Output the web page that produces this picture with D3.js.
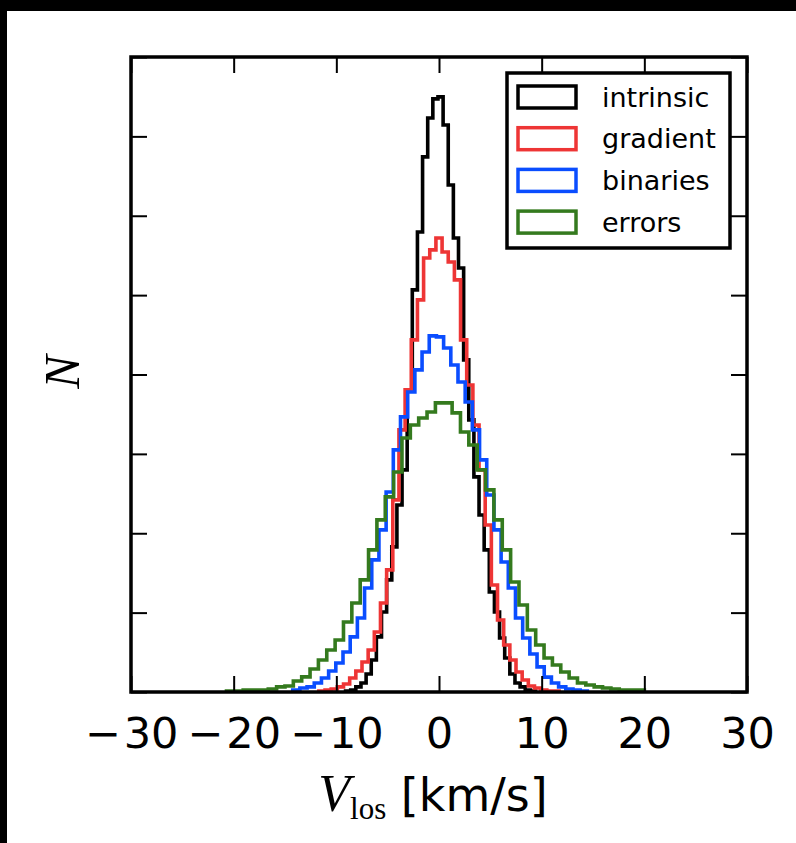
<html><head><meta charset="utf-8"><title>V_los histograms</title>
<style>
    body {
        margin: 0;
        background-color: #000;
    }
    svg text {
        font-family: 'DejaVu Sans', sans-serif;
    }
</style>
<script src="https://cdnjs.cloudflare.com/ajax/libs/d3/7.8.5/d3.min.js"></script>
</head>
<body>
<div id="chart"></div>

<script>
// Histogram data (counts per bin)
const seriesNames = ["intrinsic", "gradient", "binaries", "errors"];
const binStarts = [-9.1, -11.7, -14.25, -20.7];   // left edge of first bin, km/s
const binWidths = [0.5, 0.6, 0.7, 0.814];          // km/s

const intrinsic = [6, 13, 32, 57, 113, 202, 347, 504, 706, 914, 1178, 1399, 1903, 2533,
    2898, 3371, 3616, 3736, 3749, 3572, 3194, 2860, 2671, 2092, 1714, 1355, 1115, 895,
    630, 504, 340, 214, 113, 57, 32, 13, 6];
const gradient = [6, 13, 19, 32, 50, 88, 132, 189, 265, 378, 561, 769, 1210, 1651, 1903,
    2218, 2470, 2734, 2785, 2860, 2772, 2709, 2596, 2218, 1934, 1682, 1399, 1052, 674,
    454, 296, 202, 126, 76, 38, 25, 13, 6, 6];
const binaries = [13, 25, 32, 57, 88, 132, 183, 252, 347, 466, 655, 832, 1021, 1260, 1525,
    1733, 1890, 2029, 2142, 2243, 2237, 2167, 2060, 1953, 1827, 1651, 1462, 1241, 1021,
    819, 655, 466, 340, 239, 158, 94, 57, 32, 19, 13, 6];
const errors = [6, 6, 13, 13, 13, 19, 32, 38, 69, 95, 145, 202, 265, 328, 441, 561, 706,
    895, 1084, 1229, 1386, 1600, 1682, 1726, 1764, 1821, 1821, 1758, 1638, 1556, 1399,
    1273, 1084, 895, 693, 548, 391, 296, 214, 170, 126, 88, 57, 44, 32, 25, 19, 13, 13, 13];

const xTicks = [-30, -20, -10, 0, 10, 20, 30];
const yTicks = [0, 500, 1000, 1500, 2000, 2500, 3000, 3500, 4000];

const allSeries = [intrinsic, gradient, binaries, errors];
const colors = ["#000000", "#ee3535", "#0a4dff", "#347a1e"];

// Layout
const W = 796, H = 843;
const plotLeft = 131, plotRight = 747, plotTop = 57, plotBottom = 692;

const svg = d3.select("#chart")
    .append("svg")
    .attr("width", W)
    .attr("height", H)
    .style("display", "block");

svg.append("rect")
    .attr("x", 7).attr("y", 11)
    .attr("width", W - 7).attr("height", H - 11)
    .attr("fill", "#fff");

const x = d3.scaleLinear().domain([-30, 30]).range([plotLeft, plotRight]);
const y = d3.scaleLinear().domain([0, 4000]).range([plotBottom, plotTop]);

// Step outlines
const line = d3.line().x(d => x(d[0])).y(d => y(d[1]));

allSeries.forEach((counts, i) => {
    const pts = [[binStarts[i], 0]];
    counts.forEach((c, k) => {
        const e0 = binStarts[i] + k * binWidths[i];
        pts.push([e0, c], [e0 + binWidths[i], c]);
    });
    pts.push([binStarts[i] + counts.length * binWidths[i], 0]);
    svg.append("path")
        .attr("d", line(pts))
        .attr("fill", "none")
        .attr("stroke", colors[i])
        .attr("stroke-width", 3.6)
        .attr("stroke-linejoin", "miter");
});

// Axes, ticks pointing inward
const tickLen = 16;

const xAxis = svg.append("g")
    .attr("transform", `translate(0,${plotBottom})`)
    .call(d3.axisBottom(x).tickValues(xTicks).tickSize(-tickLen).tickPadding(25).tickFormat(""));
svg.append("g")
    .attr("transform", `translate(0,${plotTop})`)
    .call(d3.axisTop(x).tickValues(xTicks).tickSize(-tickLen).tickFormat(""));
svg.append("g")
    .attr("transform", `translate(${plotLeft},0)`)
    .call(d3.axisLeft(y).tickValues(yTicks).tickSize(-tickLen).tickFormat(""));
svg.append("g")
    .attr("transform", `translate(${plotRight},0)`)
    .call(d3.axisRight(y).tickValues(yTicks).tickSize(-tickLen).tickFormat(""));

svg.selectAll(".domain").remove();
svg.selectAll(".tick line").attr("stroke", "#000").attr("stroke-width", 2);

// Tick labels: mathtext-style minus
xAxis.selectAll(".tick text").each(function (d) {
    const t = d3.select(this)
        .attr("fill", "#000")
        .style("font-size", "43px")
        .style("font-family", "'DejaVu Sans', sans-serif");
    if (d < 0) {
        t.append("tspan").text("\u2212");
        t.append("tspan").attr("dx", 3).text(Math.abs(d));
    } else {
        t.text(d);
    }
});

// Frame
svg.append("rect")
    .attr("x", plotLeft).attr("y", plotTop)
    .attr("width", plotRight - plotLeft).attr("height", plotBottom - plotTop)
    .attr("fill", "none")
    .attr("stroke", "#000")
    .attr("stroke-width", 3.5);

// Axis labels
const xl = svg.append("text")
    .attr("x", 433).attr("y", 811)
    .attr("text-anchor", "middle")
    .attr("fill", "#000");
xl.append("tspan")
    .style("font-family", "'Liberation Serif', serif")
    .style("font-style", "italic")
    .style("font-size", "52px")
    .text("V");
xl.append("tspan")
    .style("font-family", "'Liberation Serif', serif")
    .style("font-size", "31px")
    .attr("dy", 8)
    .text("los");
xl.append("tspan")
    .style("font-size", "46px")
    .attr("dy", -8)
    .text("\u00a0[km/s]");

svg.append("text")
    .attr("transform", "translate(62,372) rotate(-90)")
    .attr("text-anchor", "middle")
    .attr("dominant-baseline", "central")
    .style("font-family", "'Liberation Serif', serif")
    .style("font-style", "italic")
    .style("font-size", "50px")
    .attr("fill", "#000")
    .text("N");

// Legend
const legend = svg.append("g");
legend.append("rect")
    .attr("x", 507).attr("y", 73)
    .attr("width", 223).attr("height", 175)
    .attr("fill", "#fff")
    .attr("stroke", "#000")
    .attr("stroke-width", 3.5);

seriesNames.forEach((name, i) => {
    const cy = 97 + i * 41.7;
    legend.append("rect")
        .attr("x", 518).attr("y", cy - 11)
        .attr("width", 58).attr("height", 22)
        .attr("fill", "#fff")
        .attr("stroke", colors[i])
        .attr("stroke-width", 3.5);
    legend.append("text")
        .attr("x", 602).attr("y", cy)
        .attr("dominant-baseline", "central")
        .style("font-size", "27px")
        .attr("fill", "#000")
        .text(name);
});
</script>
</body>
</html>
